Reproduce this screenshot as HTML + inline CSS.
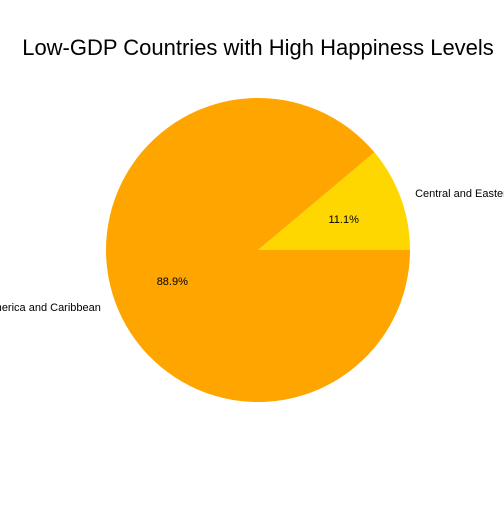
<!DOCTYPE html>
<html><head><meta charset="utf-8"><style>
html,body{margin:0;padding:0;background:#fff;}
svg text{font-family:"Liberation Sans",sans-serif;}
</style></head><body>
<svg id="chart" width="504" height="504" viewBox="0 0 504 504" xmlns="http://www.w3.org/2000/svg">
<rect width="504" height="504" fill="#fff"/>
<text x="258" y="55" text-anchor="middle" font-size="22">Low-GDP Countries with High Happiness Levels</text>
</svg>
<script>
const categories = ["Central and Eastern Europe", "Latin America and Caribbean"];
const values = [1, 8];
const colors = ["#FFD700", "#FFA500"];

const svg = document.getElementById('chart');
const NS = 'http://www.w3.org/2000/svg';
const cx = 258, cy = 250, r = 152;
const total = values.reduce((a, b) => a + b, 0);
let start = 0;
values.forEach((v, i) => {
  const sweep = v / total * 2 * Math.PI;
  const a0 = start, a1 = start + sweep;
  const x0 = cx + r * Math.cos(a0), y0 = cy - r * Math.sin(a0);
  const x1 = cx + r * Math.cos(a1), y1 = cy - r * Math.sin(a1);
  const large = sweep > Math.PI ? 1 : 0;
  const p = document.createElementNS(NS, 'path');
  p.setAttribute('d', `M${cx},${cy} L${x0},${y0} A${r},${r} 0 ${large} 0 ${x1},${y1} Z`);
  p.setAttribute('fill', colors[i]);
  
  
  svg.appendChild(p);
  const mid = (a0 + a1) / 2;
  const lx = cx + 1.1 * r * Math.cos(mid), ly = cy - 1.1 * r * Math.sin(mid);
  const t = document.createElementNS(NS, 'text');
  t.setAttribute('x', lx);
  t.setAttribute('y', ly + 4);
  t.setAttribute('font-size', '11');
  t.setAttribute('text-anchor', Math.cos(mid) >= 0 ? 'start' : 'end');
  t.textContent = categories[i];
  
  
  svg.appendChild(t);
  const px = cx + 0.6 * r * Math.cos(mid), py = cy - 0.6 * r * Math.sin(mid);
  const pt = document.createElementNS(NS, 'text');
  pt.setAttribute('x', px);
  pt.setAttribute('y', py + 4);
  pt.setAttribute('font-size', '11');
  pt.setAttribute('text-anchor', 'middle');
  pt.textContent = (v / total * 100).toFixed(1) + '%';
  
  
  svg.appendChild(pt);
  start = a1;
});
</script>
</body></html>
